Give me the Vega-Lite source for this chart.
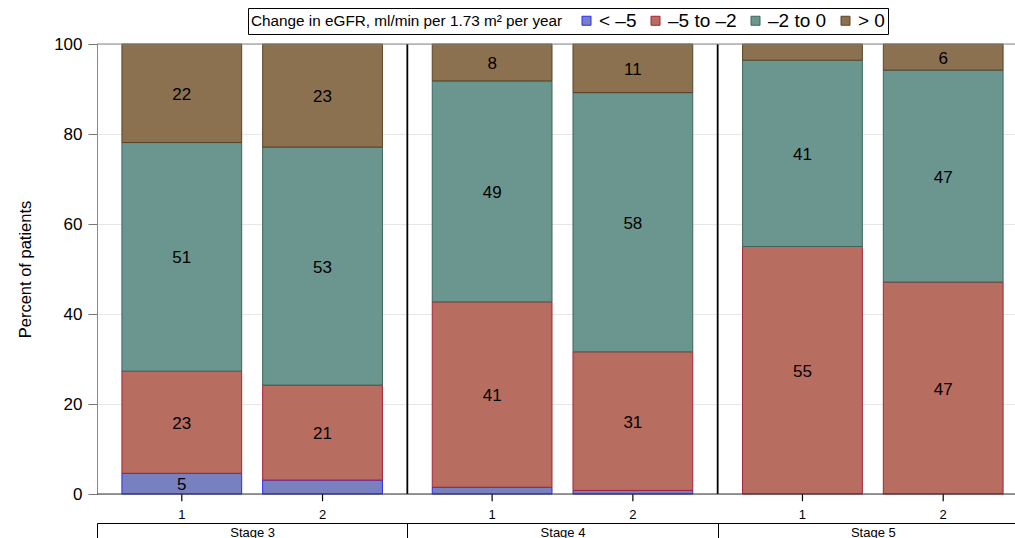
{
  "$schema": "https://vega.github.io/schema/vega-lite/v6.json",
  "width": 918,
  "height": 450,
  "autosize": {"type": "none"},
  "padding": {"left": 97, "top": 44, "right": 0, "bottom": 44},
  "config": {
    "font": "Liberation Sans",
    "view": {"stroke": null}
  },
  "data": {
    "values": [
      {"stage": "Stage 3", "group": "1", "cat": "< –5", "k": 1, "pct": 4.6},
      {"stage": "Stage 3", "group": "1", "cat": "–5 to –2", "k": 2, "pct": 22.7},
      {"stage": "Stage 3", "group": "1", "cat": "–2 to 0", "k": 3, "pct": 50.8},
      {"stage": "Stage 3", "group": "1", "cat": "> 0", "k": 4, "pct": 21.9},
      {"stage": "Stage 3", "group": "2", "cat": "< –5", "k": 1, "pct": 3.1},
      {"stage": "Stage 3", "group": "2", "cat": "–5 to –2", "k": 2, "pct": 21.1},
      {"stage": "Stage 3", "group": "2", "cat": "–2 to 0", "k": 3, "pct": 52.9},
      {"stage": "Stage 3", "group": "2", "cat": "> 0", "k": 4, "pct": 22.9},
      {"stage": "Stage 4", "group": "1", "cat": "< –5", "k": 1, "pct": 1.5},
      {"stage": "Stage 4", "group": "1", "cat": "–5 to –2", "k": 2, "pct": 41.2},
      {"stage": "Stage 4", "group": "1", "cat": "–2 to 0", "k": 3, "pct": 49.1},
      {"stage": "Stage 4", "group": "1", "cat": "> 0", "k": 4, "pct": 8.2},
      {"stage": "Stage 4", "group": "2", "cat": "< –5", "k": 1, "pct": 0.8},
      {"stage": "Stage 4", "group": "2", "cat": "–5 to –2", "k": 2, "pct": 30.8},
      {"stage": "Stage 4", "group": "2", "cat": "–2 to 0", "k": 3, "pct": 57.6},
      {"stage": "Stage 4", "group": "2", "cat": "> 0", "k": 4, "pct": 10.8},
      {"stage": "Stage 5", "group": "1", "cat": "–5 to –2", "k": 2, "pct": 55.0},
      {"stage": "Stage 5", "group": "1", "cat": "–2 to 0", "k": 3, "pct": 41.4},
      {"stage": "Stage 5", "group": "1", "cat": "> 0", "k": 4, "pct": 3.6},
      {"stage": "Stage 5", "group": "2", "cat": "–5 to –2", "k": 2, "pct": 47.1},
      {"stage": "Stage 5", "group": "2", "cat": "–2 to 0", "k": 3, "pct": 47.1},
      {"stage": "Stage 5", "group": "2", "cat": "> 0", "k": 4, "pct": 5.8}
    ]
  },
  "transform": [
    {"stack": "pct", "groupby": ["stage", "group"], "sort": [{"field": "k", "order": "ascending"}], "as": ["y0", "y1"]},
    {"calculate": "(datum.y0 + datum.y1) / 2", "as": "mid"}
  ],
  "layer": [
    {
      "mark": {"type": "bar", "strokeWidth": 1},
      "encoding": {
        "x": {
          "field": "stage", "type": "nominal", "title": null,
          "scale": {"domain": ["Stage 3", "Stage 4", "Stage 5"], "range": [0, 931], "paddingInner": 0, "paddingOuter": 0},
          "axis": {
            "title": null, "orient": "bottom", "offset": 29,
            "domainColor": "black", "domainWidth": 1,
            "tickBand": "extent", "ticks": true, "tickSize": 16, "tickColor": "black", "tickWidth": 1,
            "labelPadding": -13, "labelFontSize": 13, "labelColor": "black", "labelAngle": 0,
            "grid": false
          }
        },
        "xOffset": {
          "field": "group", "type": "nominal",
          "scale": {"domain": ["1", "2"], "paddingInner": 0.149, "paddingOuter": 0.177}
        },
        "y": {
          "field": "y0", "type": "quantitative", "title": "Percent of patients",
          "scale": {"domain": [0, 100], "nice": false, "zero": true},
          "axis": {
            "title": "Percent of patients", "titleFontSize": 16.5, "titleFontWeight": "normal", "titleColor": "black", "titlePadding": 20,
            "values": [0, 20, 40, 60, 80, 100],
            "labelFontSize": 17, "labelColor": "black", "labelPadding": 6,
            "tickSize": 9, "tickColor": "#777777", "domainColor": "#888888",
            "grid": true, "gridColor": "#e6e6e6", "gridWidth": 1
          }
        },
        "y2": {"field": "y1"},
        "fill": {
          "field": "cat", "type": "nominal",
          "scale": {"domain": ["< –5", "–5 to –2", "–2 to 0", "> 0"], "range": ["#7880c0", "#b76e61", "#6b9690", "#8c7150"]},
          "legend": {
            "title": "Change in eGFR, ml/min per 1.73 m² per year",
            "orient": "none", "legendX": 151, "legendY": -36,
            "direction": "horizontal", "columns": 4, "titleOrient": "left", "titleLimit": 600,
            "titleFontSize": 15.3, "titleFontWeight": "normal", "titleColor": "black", "titlePadding": 14,
            "labelFontSize": 19, "labelColor": "black", "labelOffset": 3, "columnPadding": 9,
            "symbolType": "square", "symbolSize": 81, "symbolStrokeWidth": 1,
            "strokeColor": "black", "fillColor": "white", "padding": 3
          }
        },
        "stroke": {
          "field": "cat", "type": "nominal",
          "scale": {"domain": ["< –5", "–5 to –2", "–2 to 0", "> 0"], "range": ["#2a2aff", "#a8203a", "#3d6658", "#5b4426"]},
          "legend": {
            "title": "Change in eGFR, ml/min per 1.73 m² per year",
            "orient": "none", "legendX": 151, "legendY": -36,
            "direction": "horizontal", "columns": 4, "titleOrient": "left", "titleLimit": 600,
            "titleFontSize": 15.3, "titleFontWeight": "normal", "titleColor": "black", "titlePadding": 14,
            "labelFontSize": 19, "labelColor": "black", "labelOffset": 3, "columnPadding": 9,
            "symbolType": "square", "symbolSize": 81, "symbolStrokeWidth": 1,
            "strokeColor": "black", "fillColor": "white", "padding": 3
          }
        }
      }
    },
    {
      "transform": [{"filter": "datum.pct >= 4"}],
      "mark": {"type": "text", "fontSize": 17, "color": "black", "baseline": "middle", "dy": 1.5},
      "encoding": {
        "x": {"field": "stage", "type": "nominal", "title": null},
        "xOffset": {"field": "group", "type": "nominal"},
        "y": {"field": "mid", "type": "quantitative", "title": "Percent of patients"},
        "text": {"field": "pct", "type": "quantitative", "format": ".0f"}
      }
    },
    {
      "transform": [{"filter": "datum.k == 2"}],
      "mark": {"type": "bar", "color": "black", "width": 1.2},
      "encoding": {
        "x": {"field": "stage", "type": "nominal", "title": null},
        "xOffset": {"field": "group", "type": "nominal"},
        "y": {"datum": 0, "type": "quantitative"},
        "y2": {"datum": -1.6}
      }
    },
    {
      "transform": [{"filter": "datum.k == 2"}],
      "mark": {"type": "text", "fontSize": 13, "color": "black", "baseline": "middle", "dy": 1},
      "encoding": {
        "x": {"field": "stage", "type": "nominal", "title": null},
        "xOffset": {"field": "group", "type": "nominal"},
        "y": {"datum": -4.4, "type": "quantitative"},
        "text": {"field": "group", "type": "nominal"}
      }
    },
    {
      "transform": [{"filter": "datum.k == 2 && datum.group == '1' && datum.stage != 'Stage 3'"}],
      "mark": {"type": "rule", "color": "black", "strokeWidth": 1.8},
      "encoding": {
        "x": {"field": "stage", "type": "nominal", "bandPosition": 0, "title": null},
        "y": {"datum": 0, "type": "quantitative"},
        "y2": {"datum": 100}
      }
    },
    {
      "data": {"values": [{"line": "top"}]},
      "mark": {"type": "rule", "color": "#888888", "strokeWidth": 1},
      "encoding": {
        "y": {"datum": 100, "type": "quantitative"}
      }
    },
    {
      "data": {"values": [{"line": "bottom"}]},
      "mark": {"type": "rule", "color": "#333333", "strokeWidth": 1.2},
      "encoding": {
        "y": {"datum": 0, "type": "quantitative"}
      }
    }
  ]
}
